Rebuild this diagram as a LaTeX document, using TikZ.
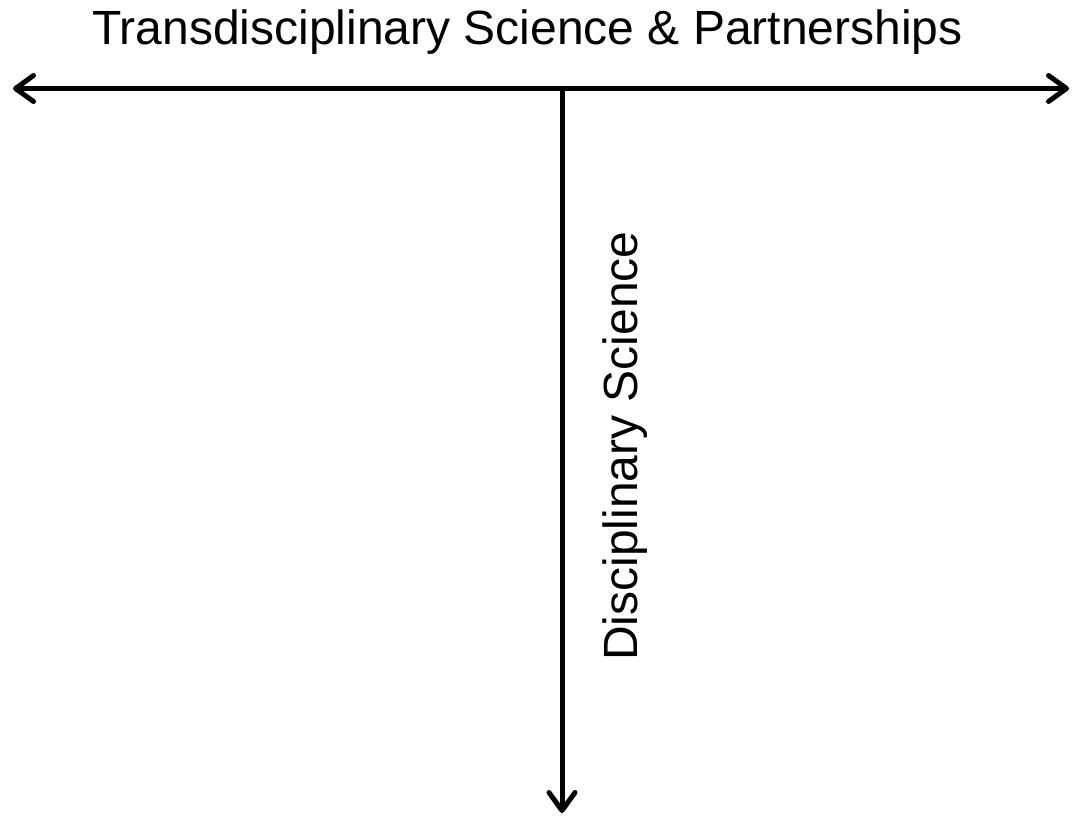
\documentclass[tikz,border=0pt]{standalone}
\usepackage{fontspec}
\setmainfont{Liberation Sans}
\usetikzlibrary{arrows.meta}
\begin{document}
\begin{tikzpicture}[x=1pt,y=-1pt,
  axis/.style={line width=5pt, -{Straight Barb[length=18pt,width=26pt,line width=5pt,round]}},
  biaxis/.style={line width=5pt, {Straight Barb[length=18pt,width=26pt,line width=5pt,round]}-{Straight Barb[length=18pt,width=26pt,line width=5pt,round]}},
  lbl/.style={inner sep=0pt, font=\fontsize{48}{58}\selectfont}]
\useasboundingbox (0,0) rectangle (1073,819);
\coordinate (L) at (13,88.5);
\coordinate (R) at (1069,88.5);
\coordinate (T) at (562,88.5);
\coordinate (B) at (562,813);
\draw[biaxis] (L) -- (R);
\draw[axis] (T) -- (B);
\node[lbl, anchor=base] (top) at (527.5,44) {Transdisciplinary Science \& Partnerships};
\node[lbl, anchor=base, rotate=90] (side) at (637,446) {Disciplinary Science};
\end{tikzpicture}
\end{document}
